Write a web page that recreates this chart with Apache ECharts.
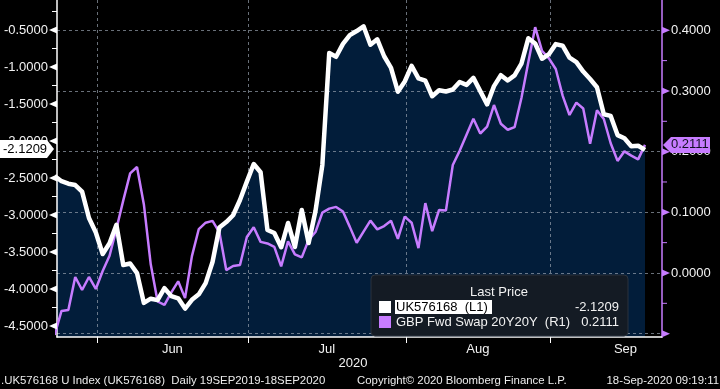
<!DOCTYPE html>
<html><head><meta charset="utf-8">
<script src="https://cdn.jsdelivr.net/npm/echarts@6/dist/echarts.min.js"></script>
<style>html,body{margin:0;padding:0;background:#000;}#c{width:720px;height:389px;}</style>
</head><body><div id="c"></div>
<script>
// ---------- data ----------
// trading days (weekdays) 21-May-2020 .. 18-Sep-2020
const dates = (function(){const out=[];const d=new Date(Date.UTC(2020,4,21));const end=Date.UTC(2020,8,18);
  while(d.getTime()<=end){const w=d.getUTCDay();if(w!==0&&w!==6)out.push(d.toISOString().slice(0,10));d.setUTCDate(d.getUTCDate()+1);}return out;})();
const ukValues = [-2.473,-2.543,-2.577,-2.595,-2.684,-3.041,-3.236,-3.527,-3.381,-3.132,-3.676,-3.655,-3.785,-4.188,-4.131,-4.150,-3.989,-4.096,-4.126,-4.265,-4.146,-4.072,-3.920,-3.635,-3.169,-3.095,-3.003,-2.797,-2.549,-2.311,-2.422,-3.203,-3.243,-3.436,-3.108,-3.432,-2.932,-3.378,-2.946,-2.324,-0.811,-0.862,-0.688,-0.570,-0.514,-0.450,-0.699,-0.626,-0.855,-1.011,-1.334,-1.196,-0.984,-1.154,-1.185,-1.395,-1.314,-1.331,-1.304,-1.203,-1.242,-1.147,-1.326,-1.505,-1.258,-1.111,-1.182,-1.114,-0.954,-0.612,-0.682,-0.889,-0.827,-0.691,-0.712,-0.874,-0.935,-1.062,-1.162,-1.273,-1.638,-1.661,-1.920,-1.962,-2.070,-2.064,-2.1209];
const gbpValues = [-0.102,-0.0625,-0.0609,-0.0066,-0.0280,-0.0066,-0.0263,0.0033,0.0285,0.0727,0.1196,0.1641,0.1747,0.1130,0.0143,-0.0470,-0.0526,-0.0321,-0.0137,-0.0414,0.0278,0.0724,0.0829,0.0859,0.0671,0.0048,0.0115,0.0132,0.0592,0.0755,0.0513,0.0487,0.0431,0.0110,0.0521,0.0308,0.0257,0.0546,0.0676,0.0995,0.1061,0.1089,0.1012,0.0760,0.0498,0.0683,0.0863,0.0719,0.0773,0.0862,0.0564,0.0928,0.0829,0.0410,0.1151,0.0688,0.1038,0.1028,0.1780,0.2013,0.2278,0.2541,0.2299,0.2411,0.2768,0.2459,0.2360,0.2403,0.2885,0.3472,0.4051,0.3661,0.3538,0.3362,0.2923,0.2604,0.2808,0.2711,0.2130,0.2683,0.2538,0.2138,0.1847,0.2005,0.1934,0.1872,0.2111];
const monthNames = ['Jun','Jul','Aug','Sep'];
const monthKeys = ['2020-06','2020-07','2020-08','2020-09'];
const leftTicks = [-4.5,-4.0,-3.5,-3.0,-2.5,-2.0,-1.5,-1.0,-0.5];
const leftMinor = [-4.25,-3.75,-3.25,-2.75,-2.25,-1.75,-1.25,-0.75,-0.25];
const rightTicks = [0.0,0.1,0.2,0.3,0.4];
const rightGrid = [-0.1,0.0,0.1,0.2,0.3,0.4];
const rightMinor = [-0.05,0.05,0.15,0.25,0.35];
const seriesNames = ['UK576168  (L1)','GBP Fwd Swap 20Y20Y  (R1)'];
const yearLabel = '2020';
const footer = ['.UK576168 U Index (UK576168)  Daily 19SEP2019-18SEP2020','Copyright\u00a9 2020 Bloomberg Finance L.P.','18-Sep-2020 09:19:11'];

// ---------- layout / style ----------
const PURPLE = '#c77cff', NAVY = '#021d3a', GRIDC = 'rgba(150,160,172,0.7)';
const FONT = 'Liberation Sans';
const X_MIN = 0.345, X_MAX = 88.475, EDGE_SHIFT = -0.85;
function firstIdx(k){return dates.findIndex(d=>d.startsWith(k));}
function weekdaysIn(y,m){let n=0;const d=new Date(Date.UTC(y,m,1));while(d.getUTCMonth()===m){const w=d.getUTCDay();if(w!==0&&w!==6)n++;d.setUTCDate(d.getUTCDate()+1);}return n;}
const edges = monthKeys.map(k=>firstIdx(k)+EDGE_SHIFT);
const mids = monthKeys.map((k,j)=>edges[j]+weekdaysIn(2020,+k.slice(5)-1)/2);

const ukData = ukValues.map((v,i)=>[i,v]);
const gbpData = gbpValues.map((v,i)=>[i,v]);

const chart = echarts.init(document.getElementById('c'), null, {renderer:'canvas'});
const option = {
  backgroundColor:'#000', animation:false,
  textStyle:{fontFamily:FONT},
  grid:{left:57,right:58,top:0,bottom:52},
  xAxis:{type:'value',min:X_MIN,max:X_MAX,z:2,
    axisLine:{show:true,onZero:false,lineStyle:{color:'#fff',width:1.5}},
    axisTick:{show:true,customValues:edges,length:6,lineStyle:{color:'#fff',width:1}},
    splitLine:{show:true,lineStyle:{color:GRIDC,type:[3,3],width:1}},
    axisLabel:{customValues:mids,color:'#f2f2f2',fontSize:13,margin:6,fontFamily:FONT,
      formatter:v=>{let b=0,bd=1e9;mids.forEach((m,j)=>{const d=Math.abs(m-v);if(d<bd){bd=d;b=j;}});return monthNames[b];}}
  },
  yAxis:[
    {type:'value',position:'left',min:-4.6486,max:-0.0946,z:2,
      axisLine:{show:true,onZero:false,lineStyle:{color:'#fff',width:1.5}},
      axisTick:{show:false},splitLine:{show:false},
      axisLabel:{customValues:leftTicks,formatter:v=>v.toFixed(4),color:'#f2f2f2',fontSize:13,margin:9,fontFamily:FONT}},
    {type:'value',position:'right',min:-0.1055,max:0.4499,z:2,
      axisLine:{show:true,onZero:false,lineStyle:{color:PURPLE,width:1.5}},
      axisTick:{show:false,customValues:rightGrid},
      splitLine:{show:true,lineStyle:{color:GRIDC,type:[3,3],width:1}},
      axisLabel:{customValues:rightTicks,formatter:v=>v.toFixed(4),color:'#f2f2f2',fontSize:13,margin:9,fontFamily:FONT}}
  ],
  series:[
    {type:'line',name:'area',yAxisIndex:0,data:ukData,symbol:'none',z:1,lineStyle:{width:0},
      areaStyle:{color:NAVY,opacity:1,origin:'start'},silent:true},
    {type:'line',name:seriesNames[1],yAxisIndex:1,data:gbpData,symbol:'none',z:3,
      lineStyle:{color:PURPLE,width:2.5}},
    {type:'line',name:seriesNames[0],yAxisIndex:0,data:ukData,symbol:'none',z:4,
      lineStyle:{color:'#fff',width:4.5,join:'round'}}
  ]
};
chart.setOption(option);

// ---------- decorations positioned through the axes ----------
const L = 57, R = 662;
const yL = v=>chart.convertToPixel({yAxisIndex:0},v);
const yR = v=>chart.convertToPixel({yAxisIndex:1},v);
const g = [];
leftTicks.forEach(v=>{const y=yL(v);g.push({type:'polygon',shape:{points:[[L,y-3.5],[49,y],[L,y+3.5]]},style:{fill:'#fff'},z:50});});
leftMinor.forEach(v=>{const y=yL(v);g.push({type:'line',shape:{x1:52,y1:y,x2:L,y2:y},style:{stroke:'#fff',lineWidth:1},z:50});});
rightGrid.forEach(v=>{const y=yR(v);g.push({type:'polygon',shape:{points:[[R,y-3.5],[R+8,y],[R,y+3.5]]},style:{fill:PURPLE},z:50});});
rightMinor.forEach(v=>{const y=yR(v);g.push({type:'line',shape:{x1:R,y1:y,x2:R+5,y2:y},style:{stroke:PURPLE,lineWidth:1},z:50});});

const lastUK = ukValues[ukValues.length-1], lastGBP = gbpValues[gbpValues.length-1];
// last value tags
{const y=yL(lastUK)-1;
 g.push({type:'polygon',shape:{points:[[0,y-9],[47,y-9],[54,y],[47,y+9],[0,y+9]]},style:{fill:'#fff'},z:60});
 g.push({type:'text',x:3,y:y,style:{text:lastUK.toFixed(4),fill:'#000',font:'13px '+FONT,verticalAlign:'middle'},z:61});}
{const y=yR(lastGBP);
 g.push({type:'polygon',shape:{points:[[R+1,y],[R+9,y-8],[710,y-8],[710,y+8],[R+9,y+8]]},style:{fill:PURPLE},z:60});
 g.push({type:'text',x:671,y:y,style:{text:lastGBP.toFixed(4),fill:'#101020',font:'13px '+FONT,verticalAlign:'middle'},z:61});}

// legend box
g.push({type:'rect',shape:{x:371,y:275,width:257,height:61,r:4},style:{fill:'#141b24',stroke:'#2b333d',lineWidth:1},z:70});
g.push({type:'text',x:499,y:292,style:{text:'Last Price',fill:'#f2f2f2',font:'13px '+FONT,align:'center',verticalAlign:'middle'},z:71});
g.push({type:'rect',shape:{x:379,y:301,width:12,height:12},style:{fill:'#fff'},z:71});
g.push({type:'rect',shape:{x:395,y:300,width:97,height:14},style:{fill:'#fff'},z:71});
g.push({type:'text',x:396,y:307,style:{text:seriesNames[0],fill:'#000',font:'13px '+FONT,verticalAlign:'middle'},z:72});
g.push({type:'text',x:619,y:307,style:{text:lastUK.toFixed(4),fill:'#f2f2f2',font:'13px '+FONT,align:'right',verticalAlign:'middle'},z:72});
g.push({type:'rect',shape:{x:379,y:316,width:12,height:12},style:{fill:PURPLE},z:71});
g.push({type:'text',x:396,y:322,style:{text:seriesNames[1],fill:'#f2f2f2',font:'13px '+FONT,verticalAlign:'middle'},z:72});
g.push({type:'text',x:619,y:322,style:{text:lastGBP.toFixed(4),fill:'#f2f2f2',font:'13px '+FONT,align:'right',verticalAlign:'middle'},z:72});

// year and footer
g.push({type:'text',x:353,y:363,style:{text:yearLabel,fill:'#f2f2f2',font:'13px '+FONT,align:'center',verticalAlign:'middle'},z:50});
const FF = '11.4px '+FONT;
g.push({type:'text',x:1,y:381,style:{text:footer[0],fill:'#ececec',font:FF,verticalAlign:'middle'},z:50});
g.push({type:'text',x:357,y:381,style:{text:footer[1],fill:'#ececec',font:FF,verticalAlign:'middle'},z:50});
g.push({type:'text',x:719,y:381,style:{text:footer[2],fill:'#ececec',font:FF,align:'right',verticalAlign:'middle'},z:50});
chart.setOption({graphic:g});
</script></body></html>
